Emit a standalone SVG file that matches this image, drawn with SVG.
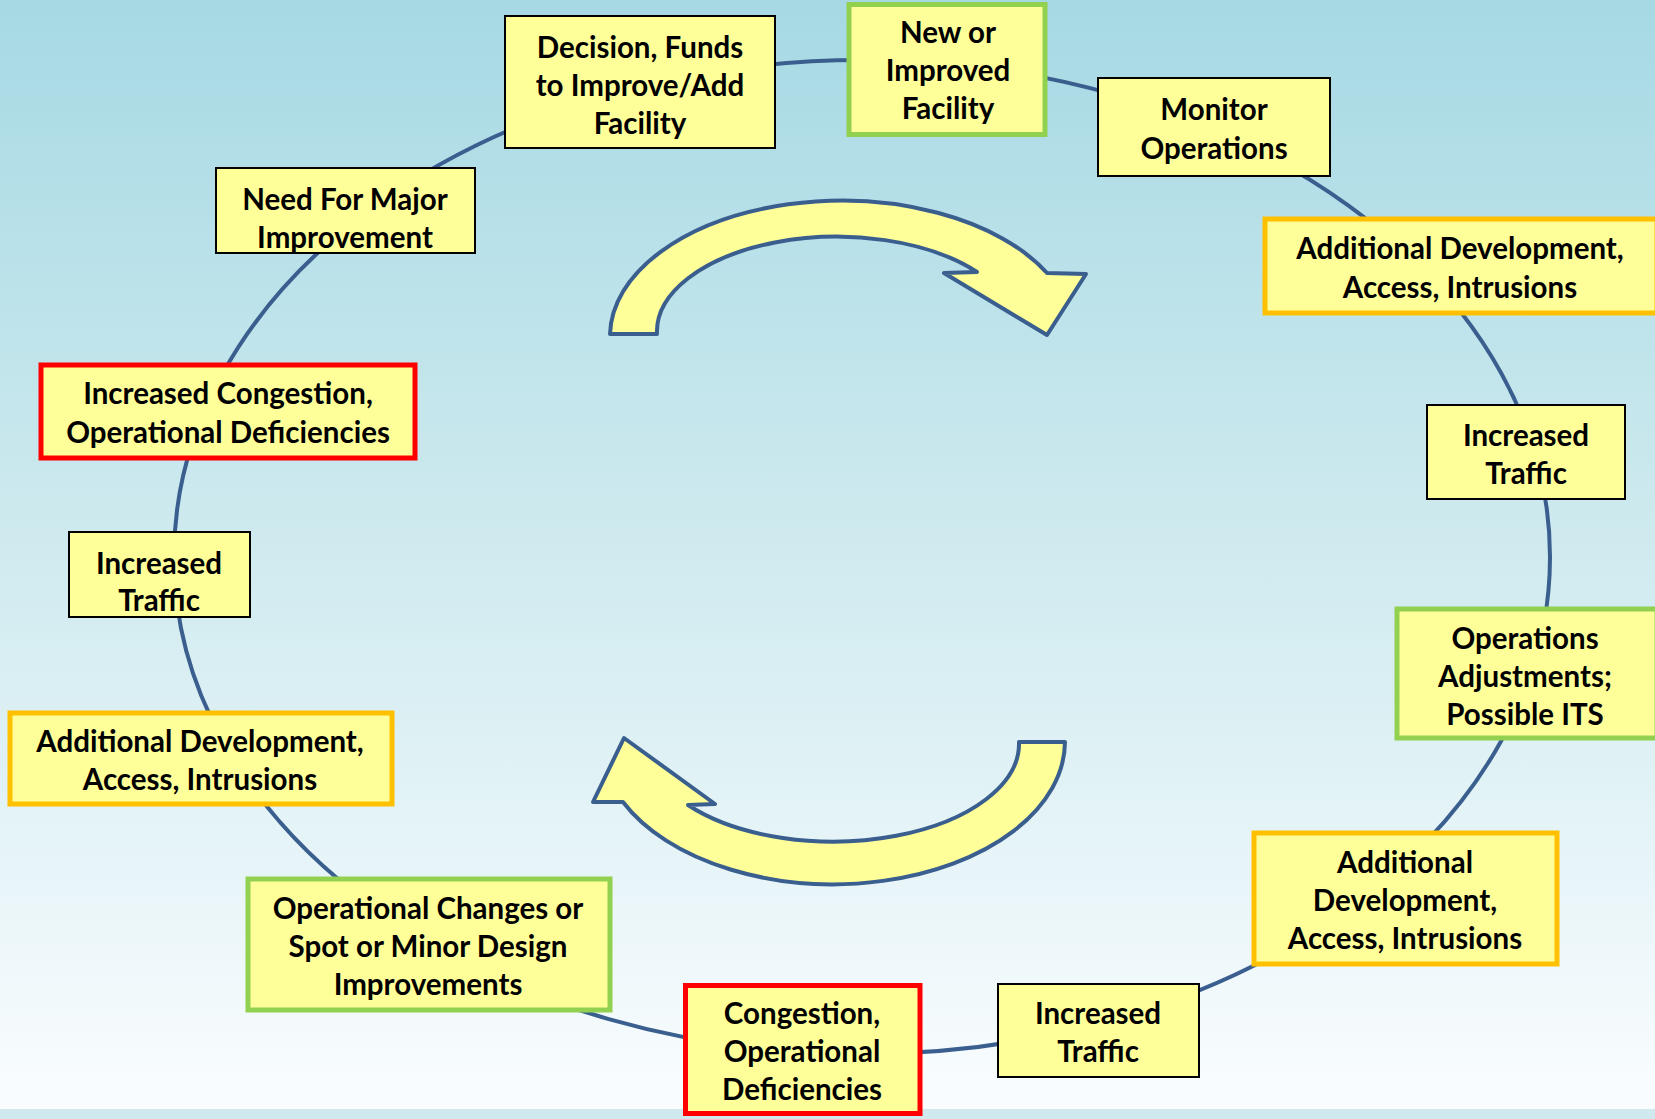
<svg xmlns="http://www.w3.org/2000/svg" width="1655" height="1119" viewBox="0 0 1655 1119">
<defs>
<linearGradient id="bg" x1="0" y1="0" x2="0" y2="1">
<stop offset="0" stop-color="#A6D9E4"/>
<stop offset="0.45" stop-color="#CCE9EE"/>
<stop offset="0.97" stop-color="#F8FCFE"/>
<stop offset="1" stop-color="#F8FCFE"/>
</linearGradient>
<style>
.box{fill:#FFFF99}
.k{stroke:#000;stroke-width:2}
.g{stroke:#92D050;stroke-width:5}
.o{stroke:#FFC000;stroke-width:5}
.r{stroke:#FF0000;stroke-width:5}
text{font-family:Lato,"Liberation Sans",sans-serif;font-weight:700;font-size:29.5px;fill:#000;text-anchor:middle}
.arrow{fill:#FFFF99;stroke:#3A5F8F;stroke-width:4;stroke-linejoin:round}
.ring{fill:none;stroke:#3A5F8F;stroke-width:4}
</style>
</defs>
<rect x="0" y="0" width="1655" height="1119" fill="url(#bg)"/>
<rect x="0" y="1109" width="1655" height="10" fill="#D0E9EF"/>
<g id="connectors">
<ellipse class="ring" cx="862" cy="557" rx="688" ry="497"/>
<path class="arrow" d="M 610,334 A 232 136 0 0 1 1047,273 L 1086,274 L 1047,335 L 944,273 L 977,272 A 180 95 0 0 0 657,334 Z"/>
<path class="arrow" d="M 1065,742 A 232 143 0 0 1 623,802 L 593,802 L 624,738 L 715,804 L 688,805 A 186 98 0 0 0 1019,742 Z"/>
</g>
<g id="n1"><rect class="box k" x="505" y="16" width="270" height="132"/><text x="640" y="57.5">Decision, Funds</text><text x="640" y="95.5">to Improve/Add</text><text x="640" y="133.5">Facility</text></g>
<g id="n2"><rect class="box g" x="849" y="4.5" width="196" height="130"/><text x="948" y="42.7">New or</text><text x="948" y="80.7">Improved</text><text x="948" y="118.7">Facility</text></g>
<g id="n3"><rect class="box k" x="1098" y="78" width="232" height="98"/><text x="1214" y="120">Monitor</text><text x="1214" y="159">Operations</text></g>
<g id="n4"><rect class="box o" x="1265" y="219" width="392" height="94"/><text x="1460" y="259">Additional Development,</text><text x="1460" y="298">Access, Intrusions</text></g>
<g id="n5"><rect class="box k" x="1427" y="405" width="198" height="94"/><text x="1526" y="446">Increased</text><text x="1526" y="484">Traffic</text></g>
<g id="n6"><rect class="box g" x="1397" y="609" width="260" height="129"/><text x="1525" y="648.6">Operations</text><text x="1525" y="686.6">Adjustments;</text><text x="1525" y="724.6">Possible ITS</text></g>
<g id="n7"><rect class="box o" x="1254" y="833" width="303" height="131"/><text x="1405" y="873.4">Additional</text><text x="1405" y="911.4">Development,</text><text x="1405" y="949.4">Access, Intrusions</text></g>
<g id="n8"><rect class="box k" x="998" y="984" width="201" height="93"/><text x="1098" y="1024.4">Increased</text><text x="1098" y="1062.4">Traffic</text></g>
<g id="n9"><rect class="box r" x="685.5" y="985.5" width="234.5" height="128"/><text x="802" y="1024.4">Congestion,</text><text x="802" y="1062.4">Operational</text><text x="802" y="1100.4">Deficiencies</text></g>
<g id="n10"><rect class="box g" x="248" y="879" width="362" height="131"/><text x="428" y="918.8">Operational Changes or</text><text x="428" y="956.8">Spot or Minor Design</text><text x="428" y="994.8">Improvements</text></g>
<g id="n11"><rect class="box o" x="10" y="713" width="382" height="91"/><text x="200" y="752">Additional Development,</text><text x="200" y="790">Access, Intrusions</text></g>
<g id="n12"><rect class="box k" x="69" y="532" width="181" height="85"/><text x="159" y="573.7">Increased</text><text x="159" y="610.6">Traffic</text></g>
<g id="n13"><rect class="box r" x="41" y="365" width="374" height="93"/><text x="228" y="403.7">Increased Congestion,</text><text x="228" y="442.8">Operational Deficiencies</text></g>
<g id="n14"><rect class="box k" x="216" y="168" width="259" height="85"/><text x="345" y="209.5">Need For Major</text><text x="345" y="247.5">Improvement</text></g>
</svg>
